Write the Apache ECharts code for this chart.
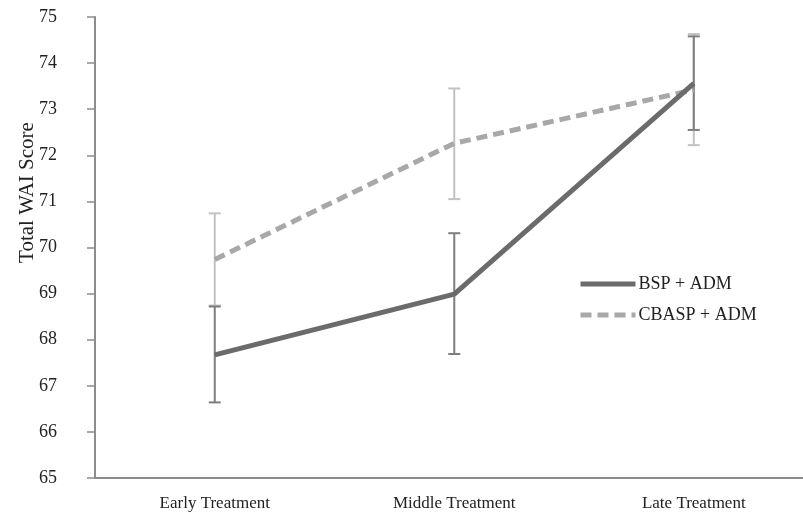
<!DOCTYPE html>
<html>
<head>
<meta charset="utf-8">
<script src="https://cdn.jsdelivr.net/npm/echarts@6/dist/echarts.min.js"></script>
<style>html,body{margin:0;padding:0;background:#fff}#c{width:803px;height:516px}</style>
</head>
<body>
<div id="c"></div>
<script>
var categories = ['Early Treatment', 'Middle Treatment', 'Late Treatment'];
var yTicks = [65, 66, 67, 68, 69, 70, 71, 72, 73, 74, 75];
var bspMean = [67.67, 68.99, 73.56];
var bspLow = [66.64, 67.69, 72.55];
var bspHigh = [68.72, 70.31, 74.58];
var cbaspMean = [69.74, 72.26, 73.42];
var cbaspLow = [68.74, 71.05, 72.22];
var cbaspHigh = [70.74, 73.45, 74.63];

var FONT = '"Liberation Serif", "DejaVu Serif", serif';

function pts(vals) {
  return vals.map(function (v, i) { return [i, v]; });
}
function errData(lo, hi) {
  return categories.map(function (c, i) { return [i, lo[i], hi[i]]; });
}
function errRender(color) {
  return function (params, api) {
    var x = api.value(0);
    var top = api.coord([x, api.value(2)]);
    var bot = api.coord([x, api.value(1)]);
    var hw = 6;
    var st = { stroke: color, lineWidth: 2 };
    return {
      type: 'group',
      children: [
        { type: 'line', shape: { x1: top[0], y1: top[1], x2: bot[0], y2: bot[1] }, style: st },
        { type: 'line', shape: { x1: top[0] - hw, y1: top[1], x2: top[0] + hw, y2: top[1] }, style: st },
        { type: 'line', shape: { x1: bot[0] - hw, y1: bot[1], x2: bot[0] + hw, y2: bot[1] }, style: st }
      ]
    };
  };
}

var chart = echarts.init(document.getElementById('c'), null, { renderer: 'canvas' });
chart.setOption({
  backgroundColor: '#ffffff',
  animation: false,
  grid: { left: 95, top: 17, right: 0, bottom: 38 },
  legend: {
    orient: 'vertical',
    left: 573,
    top: 270,
    itemWidth: 55,
    itemHeight: 14,
    itemGap: 13,
    data: ['BSP + ADM', 'CBASP + ADM'],
    itemStyle: { opacity: 0 },
    lineStyle: { width: 5 },
    textStyle: { fontFamily: FONT, fontSize: 18, color: '#222', padding: [0, 0, 0, -2] }
  },
  xAxis: {
    type: 'value',
    min: -0.5,
    max: 2.456,
    axisLine: { show: true, onZero: false, lineStyle: { color: '#8c8c8c', width: 2 } },
    axisTick: { show: false },
    axisLabel: {
      fontFamily: FONT, fontSize: 17, color: '#222', margin: 17,
      customValues: [0, 1, 2],
      formatter: function (v) { return categories[Math.round(v)]; }
    },
    splitLine: { show: false }
  },
  yAxis: {
    type: 'value',
    min: yTicks[0],
    max: yTicks[yTicks.length - 1],
    interval: 1,
    name: 'Total WAI Score',
    nameLocation: 'middle',
    nameGap: 57,
    nameMoveOverlap: false,
    nameTextStyle: { fontFamily: FONT, fontSize: 21, color: '#222', padding: [0, 0, 0, 110] },
    axisLine: { show: true, onZero: false, lineStyle: { color: '#8c8c8c', width: 2 } },
    axisTick: { show: true, length: 8, lineStyle: { color: '#8c8c8c', width: 1.5 } },
    axisLabel: { fontFamily: FONT, fontSize: 18, color: '#222', margin: 38 },
    splitLine: { show: false }
  },
  series: [
    {
      type: 'custom',
      name: 'errCB',
      data: errData(cbaspLow, cbaspHigh),
      renderItem: errRender('#c2c2c2'),
      z: 1,
      silent: true
    },
    {
      type: 'custom',
      name: 'errBSP',
      data: errData(bspLow, bspHigh),
      renderItem: errRender('#7e7e7e'),
      z: 1,
      silent: true
    },
    {
      type: 'line',
      name: 'BSP + ADM',
      data: pts(bspMean),
      symbol: 'none',
      lineStyle: { color: '#6b6b6b', width: 5 },
      itemStyle: { color: '#6b6b6b' },
      z: 3
    },
    {
      type: 'line',
      name: 'CBASP + ADM',
      data: pts(cbaspMean),
      symbol: 'none',
      lineStyle: { color: '#a8a8a8', width: 5, type: [11, 6] },
      itemStyle: { color: '#a8a8a8' },
      z: 2
    }
  ]
});
</script>
</body>
</html>
